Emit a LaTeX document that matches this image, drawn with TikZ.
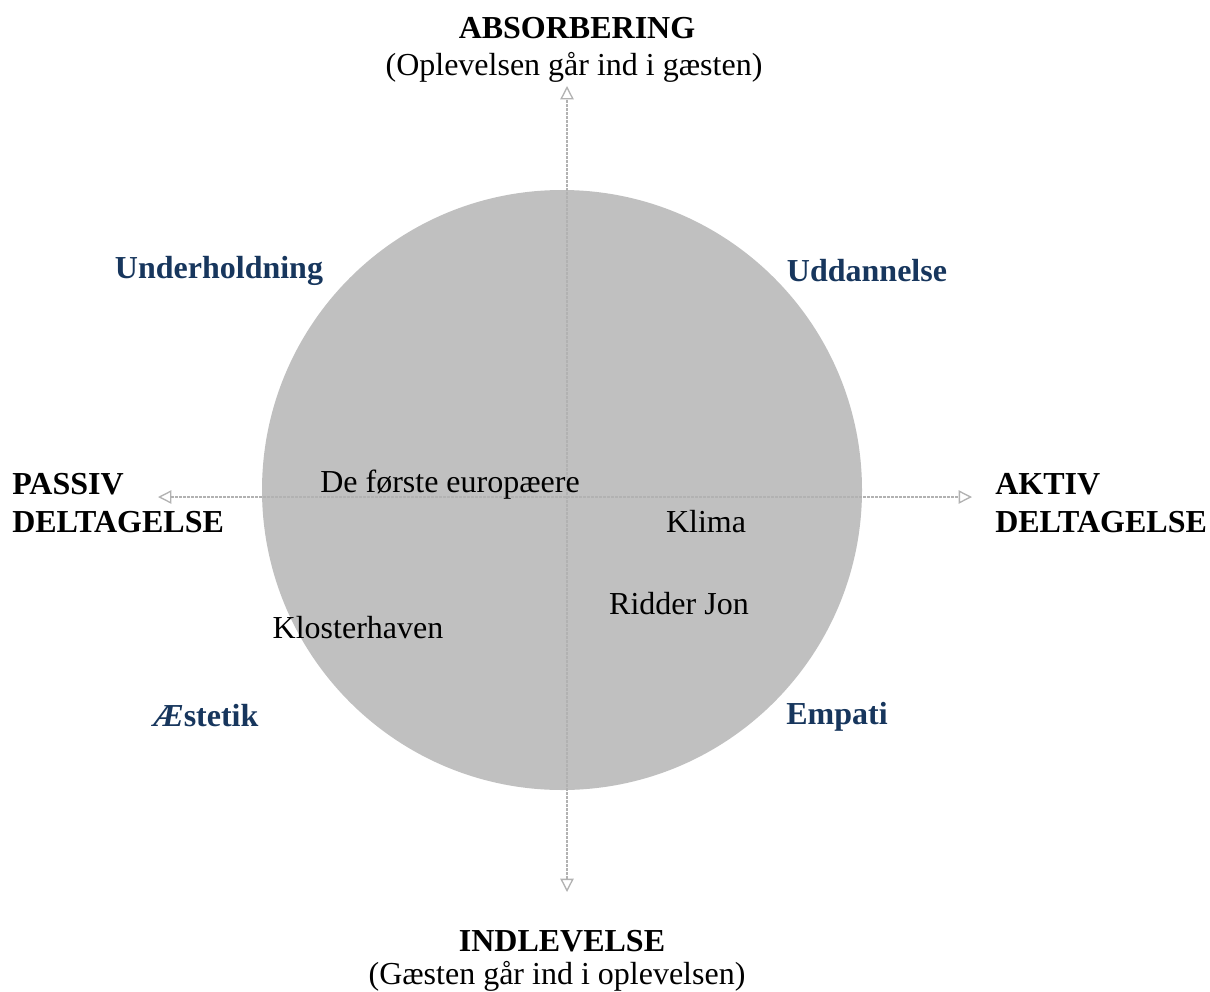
\documentclass[tikz,border=0pt]{standalone}
\usepackage{fontspec}
\setmainfont{Liberation Serif}
\usetikzlibrary{arrows.meta}

\definecolor{navy}{RGB}{23,54,93}
\definecolor{disc}{RGB}{192,192,192}

\tikzset{
  axis/.style={draw=gray!60, line width=2pt, densely dotted, {Triangle[open,length=10pt,width=10pt,line width=1pt]}-{Triangle[open,length=10pt,width=10pt,line width=1pt]}},
  pole/.style={font=\fontsize{24}{28}\selectfont\bfseries, inner sep=0pt},
  note/.style={font=\fontsize{24}{28}\selectfont, inner sep=0pt},
  kind/.style={font=\fontsize{24}{28}\selectfont\bfseries, text=navy, inner sep=0pt},
  side/.style={font=\fontsize{24}{28}\selectfont\bfseries, inner sep=0pt, anchor=west, align=left}
}

\begin{document}
\begin{tikzpicture}[x=0.75pt,y=-0.75pt]
\useasboundingbox (0,0) rectangle (1210,992);

% the disc
\fill[disc] (562,490) circle (300);

% axes
\coordinate (top) at (567,86);
\coordinate (bot) at (567,892);
\coordinate (lft) at (158,497);
\coordinate (rgt) at (972,497);
\draw[axis] (bot) -- (top);
\draw[axis] (lft) -- (rgt);

% poles
\node[pole] (absorb) at (577,28) {ABSORBERING};
\node[note] (absorbnote) at (574,67) {(Oplevelsen går ind i gæsten)};
\node[pole] (indlev) at (562,941) {INDLEVELSE};
\node[note] (indlevnote) at (557,976) {(Gæsten går ind i oplevelsen)};
\node[side] (passiv) at (12,503) {PASSIV\\DELTAGELSE};
\node[side] (aktiv) at (995,503) {AKTIV\\DELTAGELSE};

% the four kinds
\node[kind] (underh) at (219,271) {Underholdning};
\node[kind] (uddan) at (867,271) {Uddannelse};
\node[kind] (aestetik) at (206,716) {{\itshape Æ}stetik};
\node[kind] (empati) at (837,717) {Empati};

% exhibitions
\node[note] (europa) at (450,485) {De første europæere};
\node[note] (klima) at (706,522) {Klima};
\node[note] (ridder) at (679,604) {Ridder Jon};
\node[note] (kloster) at (358,628) {Klosterhaven};

\end{tikzpicture}
\end{document}
